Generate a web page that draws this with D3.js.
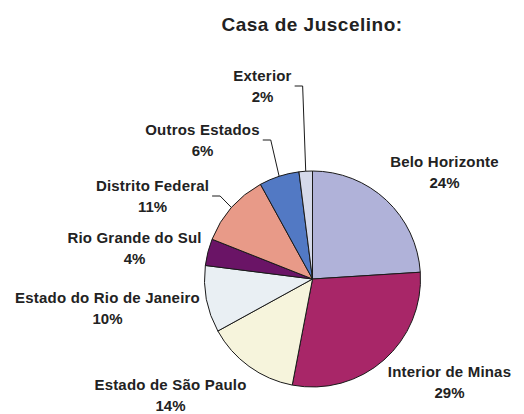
<!DOCTYPE html>
<html>
<head>
<meta charset="utf-8">
<script src="https://cdn.jsdelivr.net/npm/d3@7"></script>
<style>
  body { margin: 0; background: #fff; }
  text { font-family: "Liberation Sans", Arial, sans-serif; fill: #222; }
</style>
</head>
<body>
<div id="chart"></div>
<script>
// dados da pizza (sentido horário a partir do topo)
var categories = ["Belo Horizonte", "Interior de Minas", "Estado de São Paulo", "Estado do Rio de Janeiro",
                  "Rio Grande do Sul", "Distrito Federal", "Outros Estados", "Exterior"];
var values = [24, 29, 14, 10, 4, 11, 6, 2];
var colors = ["#b0b2d9", "#a82668", "#f6f4dc", "#e9eff3", "#6a1466", "#e89a88", "#5279c4", "#d5d9ea"];
var hasLeader = [false, false, false, false, false, true, true, true];

// posição dos rótulos (centro do texto, linha de base) em relação ao centro da pizza
var labelPos = [[132, -112], [137, 98], [-142, 111], [-205, 24], [-178, -36], [-160, -88], [-110, -144], [-50, -198]];

var width = 524, height = 414;
var cx = 312.5, cy = 279, r = 108;

var svg = d3.select("#chart")
  .append("svg")
  .attr("width", width)
  .attr("height", height);

svg.append("text")
  .attr("x", 312)
  .attr("y", 31)
  .attr("text-anchor", "middle")
  .attr("font-size", "19px")
  .attr("font-weight", "bold")
  .style("letter-spacing", "0.5px")
  .text("Casa de Juscelino:");

var g = svg.append("g")
  .attr("transform", "translate(" + cx + "," + cy + ")");

var pie = d3.pie().sort(null).value(function(d) { return d; });
var arcs = pie(values);

var arc = d3.arc().innerRadius(0).outerRadius(r);

g.selectAll("path.slice")
  .data(arcs)
  .enter().append("path")
  .attr("class", "slice")
  .attr("d", arc)
  .attr("fill", function(d, i) { return colors[i]; })
  .attr("stroke", "#1a1a1a")
  .attr("stroke-width", 1);

// rótulos
var labels = g.selectAll("g.label")
  .data(arcs)
  .enter().append("g")
  .attr("class", "label");

labels.append("text")
  .attr("class", "name")
  .attr("x", function(d, i) { return labelPos[i][0]; })
  .attr("y", function(d, i) { return labelPos[i][1]; })
  .attr("text-anchor", "middle")
  .attr("font-size", "15px")
  .attr("font-weight", "bold")
  .style("letter-spacing", "0.2px")
  .text(function(d, i) { return categories[i]; });

labels.append("text")
  .attr("x", function(d, i) { return labelPos[i][0]; })
  .attr("y", function(d, i) { return labelPos[i][1] + 21; })
  .attr("text-anchor", "middle")
  .attr("font-size", "15px")
  .attr("font-weight", "bold")
  .text(function(d) { return d.value + "%"; });

// linhas de chamada
labels.each(function(d, i) {
  if (!hasLeader[i]) return;
  var bb = d3.select(this).select("text.name").node().getBBox();
  var mid = (d.startAngle + d.endAngle) / 2;
  var x0 = bb.x + bb.width + 3, y0 = labelPos[i][1] + 5;
  var pts = [[x0, y0], [x0 + 8, y0], [r * Math.sin(mid), -r * Math.cos(mid)]];
  d3.select(this).append("path")
    .attr("d", d3.line()(pts))
    .attr("fill", "none")
    .attr("stroke", "#1a1a1a")
    .attr("stroke-width", 1);
});
</script>
</body>
</html>
